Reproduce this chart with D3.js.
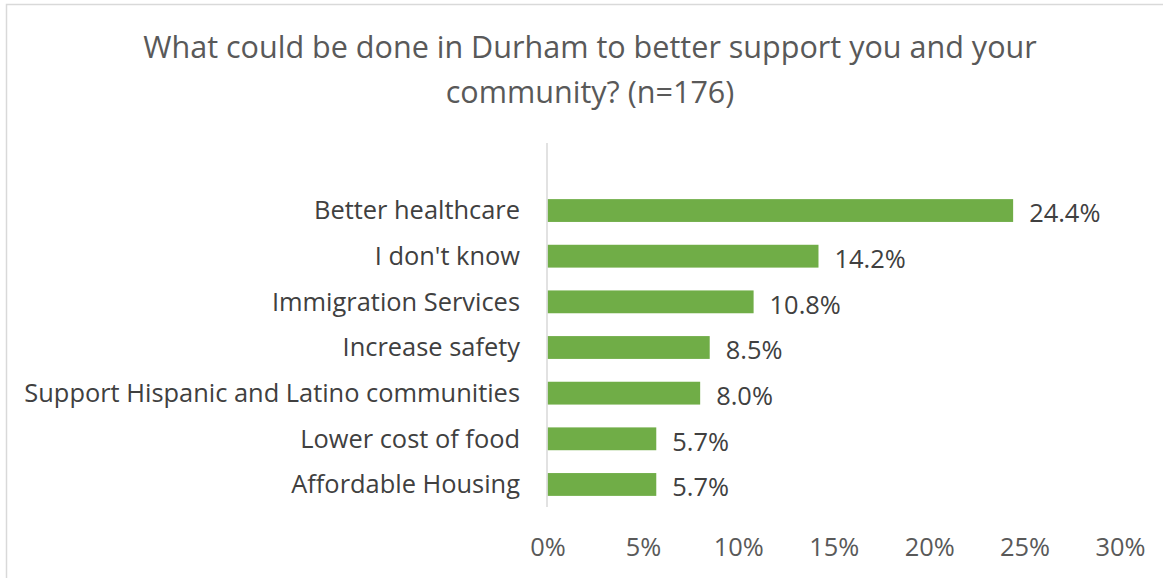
<!DOCTYPE html>
<html>
<head>
<meta charset="utf-8">
<script src="https://cdnjs.cloudflare.com/ajax/libs/d3/7.8.5/d3.min.js"></script>
<style>
  body { margin: 0; background: #fff; }
  svg { display: block; font-family: "Open Sans", sans-serif; }
</style>
</head>
<body>
<svg width="1163" height="578"></svg>
<script>
const width = 1163;
const height = 578;

// data
const titleLines = ["What could be done in Durham to better support you and your", "community? (n=176)"];
const categories = ["Better healthcare", "I don't know", "Immigration Services", "Increase safety",
  "Support Hispanic and Latino communities", "Lower cost of food", "Affordable Housing"];
const values = [24.4, 14.2, 10.8, 8.5, 8.0, 5.7, 5.7];
const tickValues = [0, 5, 10, 15, 20, 25, 30];

const svg = d3.select("svg");

// chart border (only top and left edges visible in the crop)
svg.append("rect")
  .attr("x", 6.5).attr("y", 4.5)
  .attr("width", width + 20).attr("height", height + 20)
  .attr("fill", "none").attr("stroke", "#d9d9d9").attr("stroke-width", 1.5);

// find font size that makes a string reach a given width
function fitSize(str, target) {
  const t = svg.append("text").attr("font-size", 20).text(str);
  const w = t.node().getComputedTextLength();
  t.remove();
  return 20 * target / w;
}

const x = d3.scaleLinear().domain([0, 30]).range([547.5, 1120]);
const y = d3.scaleBand().domain(categories).range([187.7, 507.3]).paddingInner(0.5).paddingOuter(0.25);

// title
const titleSize = fitSize(titleLines[0], 894);
svg.append("g").selectAll("text")
  .data(titleLines)
  .join("text")
  .attr("x", 590)
  .attr("y", (d, i) => 58 + i * 45)
  .attr("text-anchor", "middle")
  .attr("font-size", titleSize)
  .attr("fill", "#595959")
  .text(d => d);

// bars
svg.append("g").selectAll("rect")
  .data(values)
  .join("rect")
  .attr("x", x(0))
  .attr("y", (d, i) => y(categories[i]))
  .attr("width", d => x(d) - x(0))
  .attr("height", y.bandwidth())
  .attr("fill", "#70ad47");

// category axis line
svg.append("line")
  .attr("x1", x(0) - 0.5).attr("x2", x(0) - 0.5)
  .attr("y1", 143).attr("y2", 507)
  .attr("stroke", "#d9d9d9").attr("stroke-width", 1.5);

// category labels
const labelSize = fitSize(categories[4], 496);
svg.append("g").selectAll("text")
  .data(categories)
  .join("text")
  .attr("x", 520)
  .attr("y", d => y(d) + y.bandwidth() / 2)
  .attr("dy", "0.35em")
  .attr("text-anchor", "end")
  .attr("font-size", labelSize)
  .attr("fill", "#404040")
  .text(d => d);

// value labels
svg.append("g").selectAll("text")
  .data(values)
  .join("text")
  .attr("x", d => x(d) + 16)
  .attr("y", (d, i) => y(categories[i]) + y.bandwidth() / 2 + 3)
  .attr("dy", "0.35em")
  .attr("font-size", labelSize)
  .attr("fill", "#404040")
  .text(d => d.toFixed(1) + "%");

// x axis tick labels (no axis line)
const xAxis = d3.axisBottom(x).tickValues(tickValues).tickFormat(d => d + "%").tickSize(0).tickPadding(0);
const gx = svg.append("g").attr("transform", "translate(0,547)").call(xAxis);
gx.select(".domain").remove();
gx.selectAll("text")
  .attr("dy", "0.35em")
  .attr("font-size", labelSize)
  .attr("font-family", "Open Sans, sans-serif")
  .attr("fill", "#595959");
</script>
</body>
</html>
